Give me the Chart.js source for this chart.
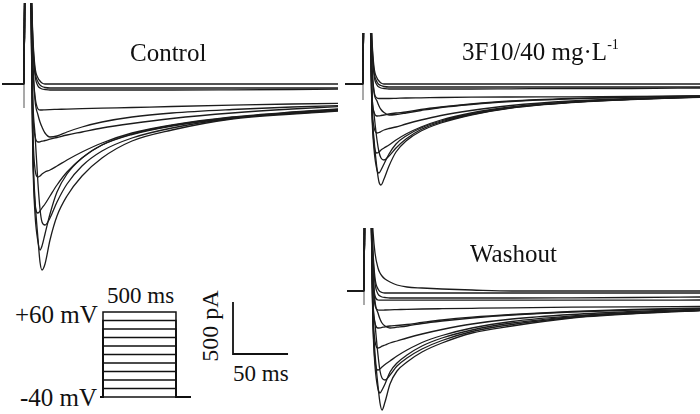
<!DOCTYPE html>
<html>
<head>
<meta charset="utf-8">
<script src="https://cdn.jsdelivr.net/npm/chart.js@4.4.1/dist/chart.umd.min.js"></script>
<style>
    body { margin: 0; background: #fff; }
    #figure {
        position: relative;
        width: 700px;
        height: 414px;
        overflow: hidden;
        background: #fff;
        font-family: 'Liberation Serif', 'Times New Roman', serif;
        color: #111;
    }
    #figure canvas { position: absolute; }
    .label { position: absolute; font-size: 24px; line-height: 1; white-space: nowrap; }
    .title { font-size: 25px; }
    .sup { font-size: 14px; position: relative; top: -11px; }
</style>
</head>
<body>
<div id="figure">
    <canvas id="control-graph" width="336" height="272" style="left:2px;top:3px;width:336px;height:272px"></canvas>
    <canvas id="drug-graph" width="355" height="157" style="left:345px;top:33px;width:355px;height:157px"></canvas>
    <canvas id="washout-graph" width="353" height="186" style="left:347px;top:228px;width:353px;height:186px"></canvas>
    <canvas id="protocol-graph" width="91" height="89" style="left:100px;top:310px;width:91px;height:89px"></canvas>
    <canvas id="scalebar-graph" width="60" height="56" style="left:231px;top:300px;width:60px;height:56px"></canvas>

    <div class="label title" style="left:130px;top:40px">Control</div>
    <div class="label title" style="left:462px;top:39px">3F10/40 mg·L<span class="sup">-1</span></div>
    <div class="label title" style="left:470px;top:241px">Washout</div>
    <div class="label" style="left:15px;top:302px;font-size:25px">+60 mV</div>
    <div class="label" style="left:20px;top:385px;font-size:25px">-40 mV</div>
    <div class="label" style="left:107px;top:284px;font-size:23px">500 ms</div>
    <div class="label" style="left:233px;top:362px;font-size:23px">50 ms</div>
    <div class="label" style="left:210px;top:326px;transform:translate(-50%,-50%) rotate(-90deg)">500 pA</div>
</div>

<script>
// Sample times of every sweep (ms, step onset at 0)
const sweepTime = [-30, -8, -7, -2, 1, 3, 6, 8, 10, 13, 18, 25, 35, 50, 70, 100, 140, 200, 260, 330];

// Currents (pA), one row per sweep
const controlSweeps = [
    [0, 0, 1200, 1200, 440, 170, 60, 30, 10, 0, 0, 0, 0, 0, 0, 0, 0, 0, 0, 0],
    [0, 0, 1200, 1200, 400, 130, 20, -10, -25, -35, -40, -40, -40, -40, -40, -40, -40, -40, -40, -40],
    [0, 0, 1200, 1200, 360, 90, -20, -40, -50, -55, -60, -60, -60, -60, -60, -60, -60, -58, -55, -50],
    [0, 0, 1200, 1200, 150, -120, -250, -260, -260, -258, -256, -254, -251, -247, -242, -235, -225, -212, -200, -190],
    [0, 0, 1200, 1200, 200, -160, -310, -380, -430, -490, -530, -520, -480, -430, -380, -330, -290, -255, -230, -210],
    [0, 0, 1200, 1200, -300, -520, -580, -578, -572, -565, -552, -535, -510, -480, -440, -395, -345, -290, -250, -215],
    [0, 0, 1200, 1200, -500, -850, -930, -920, -900, -880, -860, -820, -760, -680, -590, -490, -410, -330, -280, -235],
    [0, 0, 1200, 1200, -700, -1200, -1290, -1270, -1240, -1200, -1120, -1010, -880, -740, -610, -500, -415, -335, -285, -240],
    [0, 0, 1200, 1200, -800, -1300, -1580, -1660, -1620, -1500, -1300, -1080, -900, -740, -610, -505, -420, -340, -290, -245],
    [0, 0, 1200, 1200, -700, -1150, -1550, -1780, -1860, -1800, -1560, -1320, -1120, -920, -740, -570, -460, -350, -300, -255],
    [0, 0, 1200, 1200, -200, -500, -1000, -1250, -1380, -1410, -1340, -1180, -1000, -820, -670, -540, -440, -345, -295, -250]
];

const drugSweeps = [
    [0, 0, 1200, 1200, 440, 170, 60, 30, 10, 0, 0, 0, 0, 0, 0, 0, 0, 0, 0, 0],
    [0, 0, 1200, 1200, 400, 130, 20, -5, -15, -25, -30, -30, -30, -30, -30, -30, -30, -30, -30, -30],
    [0, 0, 1200, 1200, 360, 90, -10, -30, -40, -45, -50, -50, -50, -50, -50, -50, -48, -45, -45, -40],
    [0, 0, 1200, 1200, 150, -70, -140, -145, -145, -145, -145, -143, -140, -138, -135, -132, -130, -128, -125, -120],
    [0, 0, 1200, 1200, 200, -80, -170, -220, -255, -285, -310, -305, -290, -265, -235, -205, -175, -148, -132, -120],
    [0, 0, 1200, 1200, -100, -280, -320, -318, -315, -310, -300, -290, -280, -255, -230, -200, -170, -145, -130, -118],
    [0, 0, 1200, 1200, -200, -430, -490, -485, -475, -460, -445, -430, -400, -360, -315, -265, -215, -170, -145, -125],
    [0, 0, 1200, 1200, -250, -600, -690, -680, -660, -640, -610, -560, -500, -430, -360, -290, -230, -180, -150, -128],
    [0, 0, 1200, 1200, -300, -650, -860, -890, -860, -800, -700, -600, -520, -440, -370, -300, -235, -182, -152, -130],
    [0, 0, 1200, 1200, -250, -550, -850, -980, -1010, -950, -820, -680, -570, -470, -390, -310, -240, -185, -155, -132],
    [0, 0, 1200, 1200, -100, -300, -560, -680, -740, -760, -720, -640, -550, -455, -380, -305, -238, -184, -154, -131]
];

const washoutSweeps = [
    [0, 0, 1200, 1200, 600, 380, 230, 180, 150, 120, 90, 60, 40, 30, 20, 10, 0, 0, 0, 0],
    [0, 0, 1200, 1200, 400, 130, 20, -5, -15, -20, -20, -20, -20, -20, -20, -20, -20, -20, -20, -20],
    [0, 0, 1200, 1200, 350, 80, -30, -50, -60, -65, -70, -70, -70, -70, -70, -70, -70, -68, -65, -60],
    [0, 0, 1200, 1200, 200, -50, -90, -92, -92, -92, -92, -92, -92, -92, -92, -92, -92, -92, -92, -90],
    [0, 0, 1200, 1200, 100, -140, -190, -192, -192, -190, -188, -186, -183, -180, -177, -173, -168, -162, -158, -155],
    [0, 0, 1200, 1200, 200, -100, -220, -280, -320, -350, -370, -362, -350, -325, -300, -270, -240, -210, -190, -175],
    [0, 0, 1200, 1200, -120, -320, -370, -368, -364, -358, -350, -345, -335, -315, -290, -262, -235, -205, -185, -170],
    [0, 0, 1200, 1200, -220, -500, -570, -564, -552, -540, -520, -500, -470, -430, -385, -330, -280, -235, -205, -180],
    [0, 0, 1200, 1200, -300, -700, -790, -778, -760, -735, -700, -650, -590, -515, -445, -370, -305, -250, -215, -188],
    [0, 0, 1200, 1200, -350, -750, -980, -1020, -990, -930, -810, -720, -640, -550, -470, -390, -320, -258, -220, -192],
    [0, 0, 1200, 1200, -280, -620, -950, -1120, -1190, -1110, -930, -800, -710, -610, -520, -420, -350, -270, -228, -195],
    [0, 0, 1200, 1200, -100, -330, -640, -800, -870, -890, -840, -750, -670, -580, -495, -405, -335, -265, -225, -194]
];

// Step artifact (thin vertical line before the onset)
const artifactTime = [-8, -8];
const controlArtifact = [-240, 1200];
const drugArtifact = [-160, 1200];
const washoutArtifact = [-140, 1200];

// Voltage protocol
const holdingVoltage = -40;
const stepVoltages = [-40, -30, -20, -10, 0, 10, 20, 30, 40, 50, 60];
const stepTime = [-20, 0, 0, 500, 500, 600];

// Scale bar: 50 ms / 500 pA
const scaleBarTime = [0, 0, 50];
const scaleBarCurrent = [500, 0, 0];


function baseOptions(xMin, xMax, yMin, yMax) {
    return {
        responsive: false,
        animation: false,
        devicePixelRatio: 1,
        events: [],
        layout: { padding: 0 },
        elements: { point: { radius: 0 } },
        plugins: {
            legend: { display: false },
            tooltip: { enabled: false }
        },
        scales: {
            x: { type: 'linear', display: false, min: xMin, max: xMax },
            y: { type: 'linear', display: false, min: yMin, max: yMax }
        }
    };
}

function toPoints(xs, ys) {
    return xs.map((x, i) => ({ x: x, y: ys[i] }));
}

function drawSweeps(id, sweeps, artifact, xMin, xMax, yMin, yMax) {
    const datasets = sweeps.map(values => ({
        data: toPoints(sweepTime, values),
        borderColor: '#1c1c1c',
        borderWidth: 1.3,
        cubicInterpolationMode: 'monotone'
    }));
    datasets.push({
        data: toPoints(artifactTime, artifact),
        borderColor: 'rgba(40, 40, 40, 0.8)',
        borderWidth: 1
    });

    return new Chart(document.getElementById(id), {
        type: 'line',
        data: { datasets: datasets },
        options: baseOptions(xMin, xMax, yMin, yMax)
    });
}

drawSweeps('control-graph', controlSweeps, controlArtifact, -30, 306, -1910, 810);
drawSweeps('drug-graph', drugSweeps, drugArtifact, -26, 329, -1060, 510);
drawSweeps('washout-graph', washoutSweeps, washoutArtifact, -25, 328, -1230, 630);

// Protocol: one line per voltage step
new Chart(document.getElementById('protocol-graph'), {
    type: 'line',
    data: {
        datasets: stepVoltages.map(v => ({
            data: toPoints(stepTime, [holdingVoltage, holdingVoltage, v, v, holdingVoltage, holdingVoltage]),
            borderColor: '#111',
            borderWidth: 1.5
        }))
    },
    options: baseOptions(-20.5, 602.8, -42.35, 62.35)
});

new Chart(document.getElementById('scalebar-graph'), {
    type: 'line',
    data: {
        datasets: [{
            data: toPoints(scaleBarTime, scaleBarCurrent),
            borderColor: '#111',
            borderWidth: 1.8
        }]
    },
    options: baseOptions(-1.82, 52.7, -19, 519)
});
</script>
</body>
</html>
